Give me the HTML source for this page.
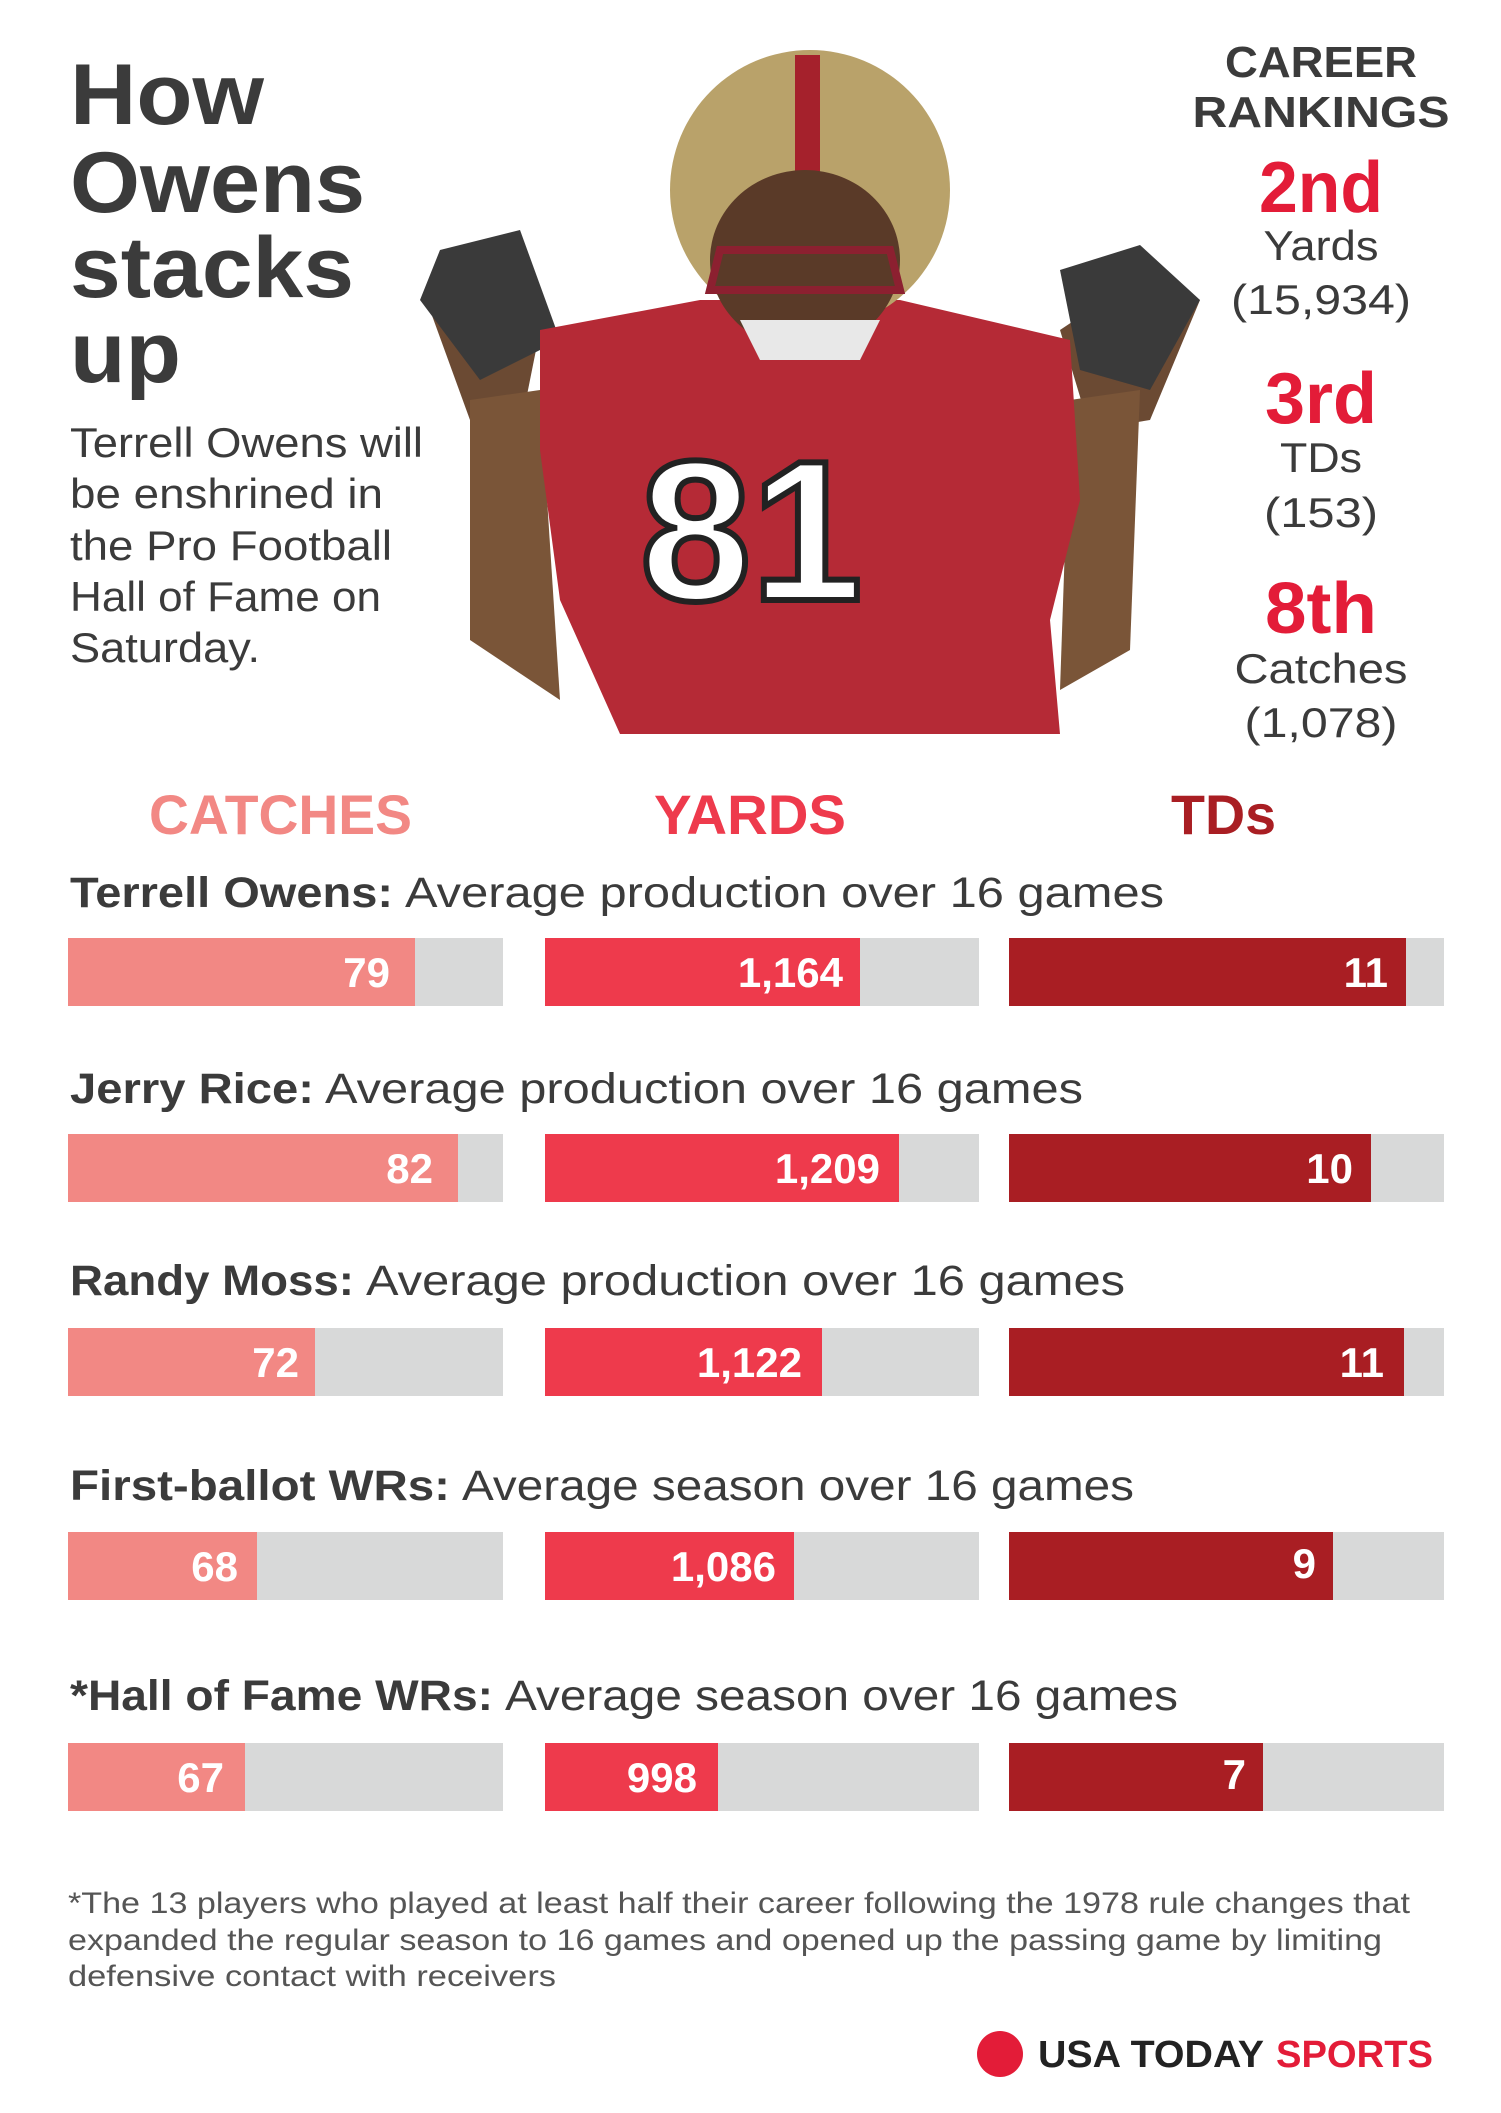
<!DOCTYPE html>
<html><head><meta charset="utf-8"><style>
html,body{margin:0;padding:0;background:#fff}
svg{display:block}
text{font-family:"Liberation Sans",sans-serif}
</style></head><body>
<svg width="1501" height="2113" viewBox="0 0 1501 2113" xmlns="http://www.w3.org/2000/svg">
<rect width="1501" height="2113" fill="#fff"/>
<g fill="#3b3b3b" font-weight="bold" font-size="86">
<text x="70" y="124" textLength="194" lengthAdjust="spacingAndGlyphs">How</text>
<text x="70" y="212" textLength="295" lengthAdjust="spacingAndGlyphs">Owens</text>
<text x="70" y="297" textLength="284" lengthAdjust="spacingAndGlyphs">stacks</text>
<text x="70" y="382" textLength="111" lengthAdjust="spacingAndGlyphs">up</text>
</g>
<g fill="#3b3b3b" font-size="42">
<text x="70" y="457" textLength="353" lengthAdjust="spacingAndGlyphs">Terrell Owens will</text>
<text x="70" y="508" textLength="313" lengthAdjust="spacingAndGlyphs">be enshrined in</text>
<text x="70" y="560" textLength="322" lengthAdjust="spacingAndGlyphs">the Pro Football</text>
<text x="70" y="611" textLength="311" lengthAdjust="spacingAndGlyphs">Hall of Fame on</text>
<text x="70" y="662" textLength="190" lengthAdjust="spacingAndGlyphs">Saturday.</text>
</g>
<g>
<path d="M540 330 L470 290 L430 310 L470 420 L520 430 Z" fill="#6b4a33"/>
<path d="M1060 330 L1150 270 L1200 300 L1150 420 L1090 430 Z" fill="#6b4a33"/>
<path d="M440 250 L520 230 L560 340 L480 380 L420 300 Z" fill="#3a3a3a"/>
<path d="M1060 270 L1140 245 L1200 300 L1150 390 L1080 370 Z" fill="#3a3a3a"/>
<path d="M470 400 L540 390 L560 700 L470 640 Z" fill="#7a5538"/>
<path d="M1070 400 L1140 390 L1130 650 L1060 690 Z" fill="#7a5538"/>
<path d="M540 330 L700 300 L900 300 L1070 340 L1080 500 L1050 620 L1060 734 L620 734 L560 600 L540 450 Z" fill="#b52a36"/>
<ellipse cx="810" cy="190" rx="140" ry="140" fill="#b9a26a"/>
<rect x="795" y="55" width="25" height="120" fill="#a5212c"/>
<ellipse cx="805" cy="260" rx="95" ry="90" fill="#5a3a28"/>
<path d="M720 250 L890 250 L900 290 L710 290 Z" fill="none" stroke="#8c2030" stroke-width="8"/>
<path d="M740 320 L880 320 L860 360 L760 360 Z" fill="#e8e8e8"/>
<text x="640" y="600" font-size="200" font-weight="bold" fill="#fff" stroke="#222" stroke-width="6">81</text>
</g>
<g text-anchor="middle">
<text x="1321" y="77" font-size="44" font-weight="bold" fill="#3b3b3b" textLength="192" lengthAdjust="spacingAndGlyphs">CAREER</text>
<text x="1321" y="127" font-size="44" font-weight="bold" fill="#3b3b3b" textLength="257" lengthAdjust="spacingAndGlyphs">RANKINGS</text>
<text x="1321" y="212" font-size="72" font-weight="bold" fill="#e31c38" textLength="124" lengthAdjust="spacingAndGlyphs">2nd</text>
<text x="1321" y="260" font-size="42" fill="#3b3b3b" textLength="115" lengthAdjust="spacingAndGlyphs">Yards</text>
<text x="1321" y="314" font-size="42" fill="#3b3b3b" textLength="180" lengthAdjust="spacingAndGlyphs">(15,934)</text>
<text x="1321" y="423" font-size="72" font-weight="bold" fill="#e31c38" textLength="112" lengthAdjust="spacingAndGlyphs">3rd</text>
<text x="1321" y="472" font-size="42" fill="#3b3b3b" textLength="82" lengthAdjust="spacingAndGlyphs">TDs</text>
<text x="1321" y="527" font-size="42" fill="#3b3b3b" textLength="114" lengthAdjust="spacingAndGlyphs">(153)</text>
<text x="1321" y="633" font-size="72" font-weight="bold" fill="#e31c38" textLength="112" lengthAdjust="spacingAndGlyphs">8th</text>
<text x="1321" y="683" font-size="42" fill="#3b3b3b" textLength="173" lengthAdjust="spacingAndGlyphs">Catches</text>
<text x="1321" y="737" font-size="42" fill="#3b3b3b" textLength="153" lengthAdjust="spacingAndGlyphs">(1,078)</text>
</g>
<g font-size="56" font-weight="bold">
<text x="149" y="834" fill="#f28884" textLength="263" lengthAdjust="spacingAndGlyphs">CATCHES</text>
<text x="654" y="834" fill="#ee3a4c" textLength="192" lengthAdjust="spacingAndGlyphs">YARDS</text>
<text x="1171" y="834" fill="#a91e23" textLength="105" lengthAdjust="spacingAndGlyphs">TDs</text>
</g>
<g fill="#3b3b3b" font-size="43">
<text x="70" y="907" font-weight="bold" textLength="323" lengthAdjust="spacingAndGlyphs">Terrell Owens:</text>
<text x="405" y="907" textLength="759" lengthAdjust="spacingAndGlyphs">Average production over 16 games</text>
<text x="70" y="1103" font-weight="bold" textLength="244" lengthAdjust="spacingAndGlyphs">Jerry Rice:</text>
<text x="325" y="1103" textLength="758" lengthAdjust="spacingAndGlyphs">Average production over 16 games</text>
<text x="70" y="1295" font-weight="bold" textLength="284" lengthAdjust="spacingAndGlyphs">Randy Moss:</text>
<text x="366" y="1295" textLength="759" lengthAdjust="spacingAndGlyphs">Average production over 16 games</text>
<text x="70" y="1500" font-weight="bold" textLength="380" lengthAdjust="spacingAndGlyphs">First-ballot WRs:</text>
<text x="462" y="1500" textLength="672" lengthAdjust="spacingAndGlyphs">Average season over 16 games</text>
<text x="70" y="1710" font-weight="bold" textLength="423" lengthAdjust="spacingAndGlyphs">*Hall of Fame WRs:</text>
<text x="505" y="1710" textLength="673" lengthAdjust="spacingAndGlyphs">Average season over 16 games</text>
</g>
<g>
<g fill="#d8d9d9">
<rect x="68" y="938" width="435" height="68"/><rect x="545" y="938" width="434" height="68"/><rect x="1009" y="938" width="435" height="68"/>
<rect x="68" y="1134" width="435" height="68"/><rect x="545" y="1134" width="434" height="68"/><rect x="1009" y="1134" width="435" height="68"/>
<rect x="68" y="1328" width="435" height="68"/><rect x="545" y="1328" width="434" height="68"/><rect x="1009" y="1328" width="435" height="68"/>
<rect x="68" y="1532" width="435" height="68"/><rect x="545" y="1532" width="434" height="68"/><rect x="1009" y="1532" width="435" height="68"/>
<rect x="68" y="1743" width="435" height="68"/><rect x="545" y="1743" width="434" height="68"/><rect x="1009" y="1743" width="435" height="68"/>
</g>
<g fill="#f28884">
<rect x="68" y="938" width="347" height="68"/>
<rect x="68" y="1134" width="390" height="68"/>
<rect x="68" y="1328" width="247" height="68"/>
<rect x="68" y="1532" width="189" height="68"/>
<rect x="68" y="1743" width="177" height="68"/>
</g>
<g fill="#ee3a4c">
<rect x="545" y="938" width="315" height="68"/>
<rect x="545" y="1134" width="354" height="68"/>
<rect x="545" y="1328" width="277" height="68"/>
<rect x="545" y="1532" width="249" height="68"/>
<rect x="545" y="1743" width="173" height="68"/>
</g>
<g fill="#a91e23">
<rect x="1009" y="938" width="397" height="68"/>
<rect x="1009" y="1134" width="362" height="68"/>
<rect x="1009" y="1328" width="395" height="68"/>
<rect x="1009" y="1532" width="324" height="68"/>
<rect x="1009" y="1743" width="254" height="68"/>
</g>
<g fill="#fff" font-size="42" font-weight="bold" text-anchor="end">
<text x="390" y="987">79</text><text x="843" y="987">1,164</text><text x="1388" y="987">11</text>
<text x="433" y="1183">82</text><text x="880" y="1183">1,209</text><text x="1353" y="1183">10</text>
<text x="299" y="1377">72</text><text x="802" y="1377">1,122</text><text x="1384" y="1377">11</text>
<text x="238" y="1581">68</text><text x="776" y="1581">1,086</text><text x="1316" y="1578">9</text>
<text x="224" y="1792">67</text><text x="697" y="1792">998</text><text x="1246" y="1789">7</text>
</g>
</g>
<g fill="#555" font-size="30">
<text x="68" y="1913" textLength="1342" lengthAdjust="spacingAndGlyphs">*The 13 players who played at least half their career following the 1978 rule changes that</text>
<text x="68" y="1950" textLength="1314" lengthAdjust="spacingAndGlyphs">expanded the regular season to 16 games and opened up the passing game by limiting</text>
<text x="68" y="1986" textLength="488" lengthAdjust="spacingAndGlyphs">defensive contact with receivers</text>
</g>
<circle cx="1000" cy="2054" r="23" fill="#e31c38"/>
<text x="1038" y="2067" font-size="38" font-weight="bold" fill="#222" textLength="226" lengthAdjust="spacingAndGlyphs">USA TODAY</text>
<text x="1276" y="2067" font-size="38" font-weight="bold" fill="#e31c38" textLength="157" lengthAdjust="spacingAndGlyphs">SPORTS</text>
</svg>
</body></html>
